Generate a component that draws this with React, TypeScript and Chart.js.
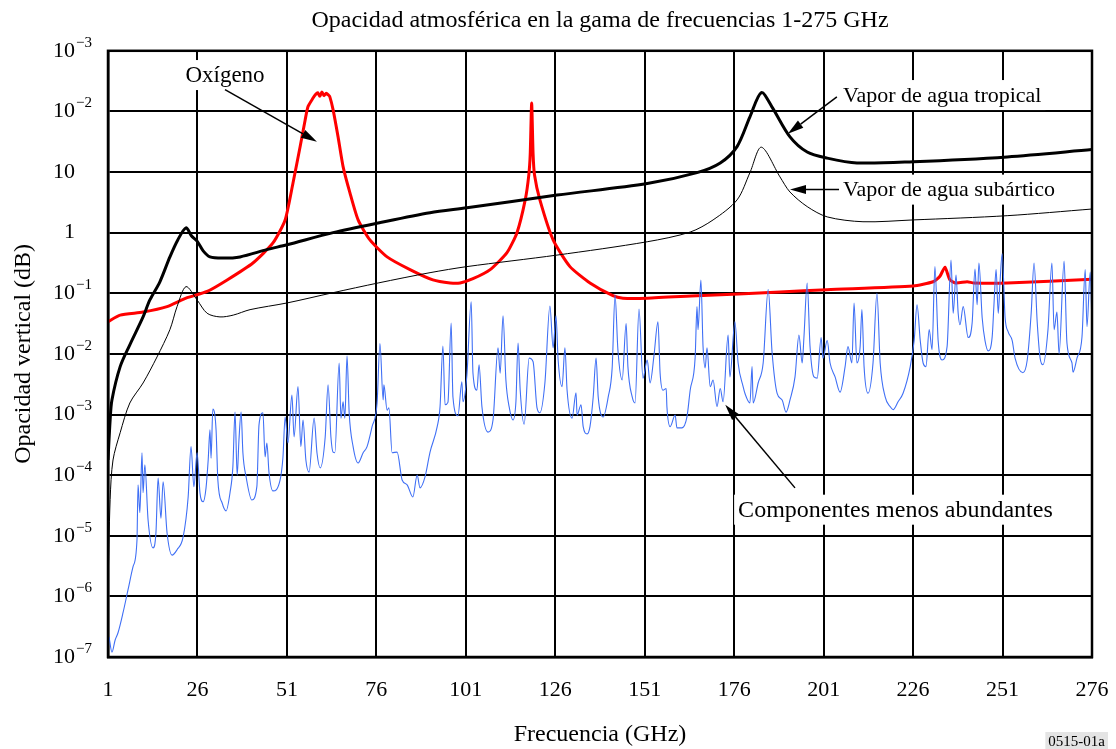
import React, { useEffect, useRef } from 'react';
import { Chart, registerables } from 'chart.js';

Chart.register(...registerables);

const FONT = '"Liberation Serif", "Times New Roman", Times, serif';

const chartTitle = 'Opacidad atmosférica en la gama de frecuencias 1-275 GHz';
const xAxisTitle = 'Frecuencia (GHz)';
const yAxisTitle = 'Opacidad vertical (dB)';
const figureCode = '0515-01a';

const xTicks = [1, 26, 51, 76, 101, 126, 151, 176, 201, 226, 251, 276];
const yTickValues = [1e-7, 1e-6, 1e-5, 1e-4, 1e-3, 1e-2, 1e-1, 1, 10, 100, 1000];
const yTickLabels = ['10^−7', '10^−6', '10^−5', '10^−4', '10^−3', '10^−2', '10^−1', '1', '10', '10^−2', '10^−3'];

// [frequency GHz, log10(opacity dB)]
const tropicalWaterVapour: [number, number][] = [
  [1.0, -3.75], [1.6, -3.09], [2.1, -2.76], [4.4, -2.21], [7.1, -1.85], [10.8, -1.39], [12.7, -1.11],
  [15.5, -0.81], [18.3, -0.40], [20.5, -0.12], [22.8, 0.08], [24.3, -0.05], [25.9, -0.14], [27.6, -0.30],
  [29.5, -0.40], [33.1, -0.42], [37.9, -0.40], [45.4, -0.28], [51.0, -0.20], [63.9, 0.0], [76.5, 0.16],
  [91.0, 0.33], [101.3, 0.41], [126.5, 0.62], [151.7, 0.81], [165.6, 0.99], [172.1, 1.15], [176.8, 1.42],
  [180.4, 1.91], [183.6, 2.31], [186.5, 2.08], [191.6, 1.58], [196.4, 1.33], [202.0, 1.23], [210.3, 1.15],
  [226.0, 1.17], [252.3, 1.25], [276.0, 1.37],
];

const subarcticWaterVapour: [number, number][] = [
  [1.0, -5.9], [1.6, -4.4], [2.4, -3.75], [4.4, -3.30], [7.1, -2.81], [10.8, -2.48], [14.7, -2.05],
  [18.3, -1.60], [20.3, -1.22], [22.8, -0.89], [25.9, -1.11], [28.7, -1.33], [32.3, -1.39], [36.0, -1.36],
  [40.7, -1.27], [51.0, -1.16], [63.9, -0.99], [76.5, -0.83], [91.0, -0.66], [101.3, -0.56], [126.5, -0.37],
  [151.7, -0.15], [163.7, 0.01], [170.1, 0.21], [176.8, 0.54], [180.4, 0.99], [183.6, 1.41], [188.8, 0.92],
  [191.6, 0.67], [196.4, 0.43], [202.0, 0.26], [212.0, 0.18], [226.0, 0.21], [252.3, 0.28], [276.0, 0.39],
];

const oxygen: [number, number][] = [
  [1.0, -1.47], [4.4, -1.36], [10.8, -1.31], [17.5, -1.22], [22.8, -1.08], [28.7, -0.97], [34.3, -0.78],
  [41.5, -0.50], [47.1, -0.17], [50.5, 0.21], [52.7, 0.82], [54.7, 1.42], [56.1, 1.86], [56.9, 2.08],
  [58.3, 2.22], [59.0, 2.28], [59.6, 2.31], [60.2, 2.25], [60.8, 2.32], [61.4, 2.26], [62.0, 2.30],
  [62.6, 2.27], [63.0, 2.24], [63.9, 2.03], [65.3, 1.58], [66.7, 1.09], [68.6, 0.66], [70.9, 0.21],
  [74.2, -0.12], [79.0, -0.40], [85.4, -0.61], [91.8, -0.78], [96.6, -0.83], [99.4, -0.83], [103.0, -0.76],
  [107.8, -0.61], [112.5, -0.33], [115.3, 0.0], [117.6, 0.54], [118.6, 0.95], [119.0, 1.30], [119.4, 2.14],
  [119.8, 1.30], [120.2, 0.95], [121.7, 0.54], [125.4, -0.12], [130.1, -0.56], [135.7, -0.83], [142.1, -1.04],
  [144.9, -1.08], [151.7, -1.08], [165.6, -1.04], [188.8, -0.98], [202.0, -0.94], [226.0, -0.88], [231.6, -0.81],
  [233.5, -0.72], [234.9, -0.57], [236.3, -0.78], [238.0, -0.83], [241.1, -0.81], [243.0, -0.83], [252.3, -0.83],
  [276.0, -0.77],
];

const minorConstituents: [number, number][] = [
  [1.3, -6.67], [2.1, -6.92], [3.0, -6.72], [3.8, -6.60], [5.2, -6.27], [6.6, -5.89], [8.0, -5.51], [9.1, -5.07],
  [9.4, -4.16], [9.9, -4.62], [10.5, -3.63], [10.8, -4.29], [11.3, -3.83], [12.2, -4.74], [13.6, -5.20], [14.4, -4.95],
  [15.0, -4.05], [15.8, -4.71], [16.4, -4.11], [17.5, -4.95], [18.9, -5.32], [20.3, -5.23], [22.0, -5.02], [23.4, -4.36],
  [24.2, -3.53], [25.0, -4.19], [25.9, -3.63], [26.7, -4.29], [27.6, -4.44], [28.4, -4.21], [29.0, -3.75], [29.5, -3.25],
  [29.8, -3.72], [30.3, -2.91], [31.2, -3.25], [31.7, -4.08], [32.9, -4.46], [34.0, -4.59], [35.1, -4.29], [35.9, -3.86],
  [36.5, -2.96], [37.1, -4.00], [37.6, -3.42], [38.2, -2.96], [38.7, -3.63], [39.6, -4.03], [41.2, -4.41], [42.6, -4.19],
  [43.2, -3.17], [44.3, -2.97], [44.9, -3.70], [45.4, -3.47], [46.0, -3.96], [47.1, -4.26], [49.1, -4.08], [49.9, -3.70],
  [50.5, -3.04], [51.3, -3.47], [52.4, -2.68], [53.0, -3.37], [54.1, -2.54], [54.9, -3.53], [55.5, -3.09], [56.3, -3.75],
  [57.2, -3.95], [58.6, -3.06], [59.4, -3.63], [60.3, -3.88], [61.7, -3.37], [62.5, -2.51], [63.3, -3.37], [63.9, -3.62],
  [64.4, -3.63], [65.6, -2.15], [66.1, -3.06], [66.7, -2.79], [67.2, -3.06], [67.8, -2.03], [68.4, -2.97], [69.5, -3.53],
  [70.9, -3.80], [72.3, -3.63], [73.4, -3.53], [74.8, -3.20], [76.2, -2.81], [77.0, -1.83], [77.9, -2.76], [78.1, -2.51],
  [79.0, -2.93], [79.5, -2.89], [80.4, -3.63], [81.8, -3.62], [83.2, -4.08], [84.6, -4.16], [86.2, -4.36], [87.4, -4.00],
  [88.2, -4.21], [89.6, -4.03], [91.0, -3.62], [93.0, -3.20], [93.8, -2.87], [94.6, -1.87], [95.2, -2.84], [96.0, -2.80],
  [96.9, -1.49], [97.4, -2.71], [98.8, -3.02], [99.9, -2.46], [100.2, -2.79], [101.3, -2.35], [102.5, -1.14], [103.0, -2.32],
  [104.1, -2.60], [104.7, -2.18], [105.5, -2.87], [107.2, -3.29], [108.6, -3.09], [110.0, -1.90], [110.6, -2.32], [111.4, -1.37],
  [112.2, -2.43], [113.1, -2.87], [114.2, -3.09], [115.0, -2.79], [115.6, -1.82], [116.2, -2.60], [117.3, -3.16], [118.7, -2.07],
  [119.8, -2.13], [120.9, -2.89], [121.7, -2.97], [123.1, -2.48], [124.5, -1.21], [125.4, -1.90], [126.2, -1.37], [126.8, -2.10],
  [127.9, -2.54], [128.7, -1.90], [129.3, -2.60], [130.7, -3.06], [131.8, -2.64], [132.1, -3.01], [133.2, -2.84], [133.8, -3.20],
  [134.9, -3.32], [135.7, -3.20], [136.6, -2.71], [137.4, -2.07], [138.0, -2.71], [139.4, -3.04], [140.8, -2.71], [141.9, -2.23],
  [142.7, -1.03], [143.5, -1.93], [144.7, -2.43], [145.8, -1.50], [146.3, -2.21], [147.5, -2.71], [148.3, -2.81], [149.4, -1.26],
  [150.5, -2.40], [151.7, -2.10], [152.5, -2.48], [153.6, -2.02], [154.7, -1.47], [155.3, -2.32], [156.1, -2.60], [157.0, -2.57],
  [157.2, -2.87], [158.1, -3.20], [159.5, -3.01], [160.0, -3.22], [161.4, -3.22], [162.8, -3.04], [163.7, -2.60], [165.1, -2.05],
  [165.6, -1.22], [165.9, -1.60], [166.7, -0.78], [167.3, -1.88], [167.9, -2.23], [168.4, -1.90], [169.3, -2.54], [170.1, -2.43],
  [171.2, -2.87], [172.1, -2.57], [172.9, -2.79], [174.3, -1.69], [174.8, -2.38], [176.2, -1.47], [177.1, -2.15], [178.5, -2.54],
  [179.0, -2.65], [180.4, -2.81], [181.0, -2.21], [181.3, -2.81], [182.7, -2.48], [184.1, -2.15], [185.5, -0.94], [186.6, -1.98],
  [188.0, -2.65], [189.4, -2.76], [190.5, -2.96], [191.6, -2.76], [193.0, -2.38], [194.1, -1.69], [195.0, -2.15], [195.5, -1.72],
  [196.4, -0.83], [197.2, -1.88], [198.3, -2.38], [199.2, -2.40], [200.3, -1.73], [200.8, -2.07], [202.0, -1.78], [202.8, -2.15],
  [204.2, -2.38], [205.6, -2.63], [207.0, -2.21], [207.8, -1.88], [208.9, -2.15], [209.5, -1.16], [210.3, -2.15], [211.2, -1.88],
  [211.7, -1.27], [212.3, -2.21], [213.4, -2.65], [214.8, -2.15], [215.9, -1.00], [216.8, -2.15], [218.2, -2.71], [219.6, -2.87],
  [220.4, -2.92], [221.8, -2.79], [223.2, -2.65], [225.2, -2.21], [226.3, -1.78], [227.1, -1.19], [228.0, -1.78], [228.8, -2.15],
  [229.6, -2.21], [230.5, -1.60], [231.3, -1.93], [232.1, -0.56], [233.0, -1.78], [234.1, -2.10], [235.5, -1.88], [236.6, -0.45],
  [237.2, -1.33], [238.0, -0.70], [238.6, -1.33], [239.1, -1.52], [240.0, -1.22], [241.4, -1.73], [242.5, -1.49], [243.3, -0.60],
  [243.9, -1.19], [244.4, -0.50], [245.3, -1.40], [246.1, -1.78], [247.0, -1.95], [248.1, -1.72], [248.6, -1.19], [249.2, -0.61],
  [249.8, -1.33], [250.3, -0.81], [250.9, -0.35], [251.7, -1.39], [252.6, -1.64], [253.7, -1.78], [254.5, -2.07], [256.7, -2.31],
  [257.9, -2.10], [259.0, -1.33], [259.8, -0.50], [260.7, -1.49], [261.5, -2.07], [262.3, -2.18], [263.7, -1.60], [264.8, -0.50],
  [265.4, -1.60], [266.2, -1.31], [266.8, -2.00], [268.2, -0.47], [269.0, -1.82], [270.4, -2.15], [270.7, -2.30], [271.8, -2.07],
  [273.2, -1.72], [274.1, -0.61], [274.6, -1.55], [275.5, -0.65], [276.0, -1.55],
];

// Annotation labels: text, anchor [GHz, log10 dB], alignment, font size, arrow from -> to (data coords)
const annotationTexts = ['Oxígeno', 'Vapor de agua tropical', 'Vapor de agua subártico', 'Componentes menos abundantes'];
const annotationAnchors: [number, number][] = [[33.7, 2.6], [206.4, 2.27], [206.4, 0.71], [177.1, -4.57]];
const annotationAligns: CanvasTextAlign[] = ['center', 'left', 'left', 'left'];
const annotationSizes = [23, 22, 22, 24];
const arrowFrom: [number, number][] = [[33.7, 2.36], [204.7, 2.24], [205.3, 0.71], [193.0, -4.21]];
const arrowTo: [number, number][] = [[59.4, 1.5], [191.0, 1.63], [191.6, 0.71], [173.5, -2.84]];

const toPoints = (arr: [number, number][]) => arr.map(([x, l]) => ({ x, y: Math.pow(10, l) }));

const annotationPlugin = {
  id: 'figureAnnotations',
  afterDraw(chart: any) {
    const { ctx, chartArea, scales } = chart;
    const xs = scales.x;
    const ys = scales.y;
    ctx.save();
    // frame
    ctx.strokeStyle = '#000';
    ctx.lineWidth = 2.5;
    ctx.strokeRect(chartArea.left, chartArea.top, chartArea.right - chartArea.left, chartArea.bottom - chartArea.top);

    // y tick exponents
    ctx.fillStyle = '#000';
    ctx.font = `15px ${FONT}`;
    ctx.textAlign = 'left';
    ctx.textBaseline = 'middle';
    yTickValues.forEach((v, i) => {
      const parts = yTickLabels[i].split('^');
      if (parts[1]) ctx.fillText(parts[1], ys.right - 32, ys.getPixelForValue(v) - 8);
    });

    // annotations
    annotationTexts.forEach((t, i) => {
      ctx.font = `${annotationSizes[i]}px ${FONT}`;
      const ax = xs.getPixelForValue(annotationAnchors[i][0]);
      const ay = ys.getPixelForValue(Math.pow(10, annotationAnchors[i][1]));
      const w = ctx.measureText(t).width;
      const left = annotationAligns[i] === 'center' ? ax - w / 2 : ax;
      ctx.fillStyle = '#fff';
      ctx.fillRect(left - 4, ay - 15, w + 8, 30);
      ctx.fillStyle = '#000';
      ctx.textAlign = 'left';
      ctx.textBaseline = 'middle';
      ctx.fillText(t, left, ay + 1);

      const x1 = xs.getPixelForValue(arrowFrom[i][0]);
      const y1 = ys.getPixelForValue(Math.pow(10, arrowFrom[i][1]));
      const x2 = xs.getPixelForValue(arrowTo[i][0]);
      const y2 = ys.getPixelForValue(Math.pow(10, arrowTo[i][1]));
      const ang = Math.atan2(y2 - y1, x2 - x1);
      const hl = 16, hw = 4.5;
      const bx = x2 - hl * Math.cos(ang);
      const by = y2 - hl * Math.sin(ang);
      ctx.strokeStyle = '#000';
      ctx.lineWidth = 1.5;
      ctx.beginPath();
      ctx.moveTo(x1, y1);
      ctx.lineTo(bx, by);
      ctx.stroke();
      ctx.beginPath();
      ctx.moveTo(x2, y2);
      ctx.lineTo(bx + hw * Math.sin(ang), by - hw * Math.cos(ang));
      ctx.lineTo(bx - hw * Math.sin(ang), by + hw * Math.cos(ang));
      ctx.closePath();
      ctx.fillStyle = '#000';
      ctx.fill();
    });

    // figure code
    ctx.font = `15px ${FONT}`;
    const cw = ctx.measureText(figureCode).width;
    ctx.fillStyle = '#e4e4e4';
    ctx.fillRect(chart.width - cw - 14, chart.height - 17, cw + 6, 17);
    ctx.fillStyle = '#000';
    ctx.textBaseline = 'middle';
    ctx.fillText(figureCode, chart.width - cw - 11, chart.height - 7);
    ctx.restore();
  },
};

export default function App() {
  const ref = useRef<HTMLCanvasElement | null>(null);

  useEffect(() => {
    if (!ref.current) return;
    const tickFont = { family: FONT, size: 22, weight: 'normal' as const };
    const titleFont = { family: FONT, size: 24, weight: 'normal' as const };
    const chart = new Chart(ref.current, {
      type: 'line',
      data: {
        datasets: [
          {
            label: 'Componentes menos abundantes',
            data: toPoints(minorConstituents),
            borderColor: '#3f6ff5',
            borderWidth: 1.1,
            pointRadius: 0,
            cubicInterpolationMode: 'monotone',
          },
          {
            label: 'Vapor de agua subártico',
            data: toPoints(subarcticWaterVapour),
            borderColor: '#000',
            borderWidth: 1,
            pointRadius: 0,
            tension: 0.3,
          },
          {
            label: 'Vapor de agua tropical',
            data: toPoints(tropicalWaterVapour),
            borderColor: '#000',
            borderWidth: 3,
            pointRadius: 0,
            tension: 0.3,
          },
          {
            label: 'Oxígeno',
            data: toPoints(oxygen),
            borderColor: '#ff0000',
            borderWidth: 3,
            pointRadius: 0,
            tension: 0.2,
          },
        ],
      },
      options: {
        animation: false,
        responsive: false,
        events: [],
        layout: { padding: { top: 0, right: 24, bottom: 0, left: 0 } },
        plugins: {
          legend: { display: false },
          tooltip: { enabled: false },
          title: {
            display: true,
            fullSize: false,
            text: chartTitle,
            color: '#000',
            font: titleFont,
            padding: { top: 6, bottom: 16 },
          },
        },
        scales: {
          x: {
            type: 'linear',
            min: 1,
            max: 276,
            afterBuildTicks: (s: any) => {
              s.ticks = xTicks.map((v) => ({ value: v }));
            },
            afterFit: (s: any) => {
              s.height = 92;
              s.paddingLeft = 0;
              s.paddingRight = 0;
            },
            grid: { color: '#000', lineWidth: 2, drawTicks: false },
            border: { color: '#000', width: 2.5 },
            ticks: {
              color: '#000',
              font: tickFont,
              padding: 20,
              autoSkip: false,
              maxRotation: 0,
              callback: (v: any) => String(v),
            },
            title: {
              display: true,
              text: xAxisTitle,
              color: '#000',
              font: titleFont,
              padding: { top: 0, bottom: 0 },
            },
          },
          y: {
            type: 'logarithmic',
            min: 1e-7,
            max: 1e3,
            afterBuildTicks: (s: any) => {
              s.ticks = yTickValues.map((v) => ({ value: v }));
            },
            afterFit: (s: any) => {
              s.width = 108;
            },
            grid: { color: '#000', lineWidth: 2, drawTicks: false },
            border: { color: '#000', width: 2.5 },
            ticks: {
              color: '#000',
              font: tickFont,
              padding: 33,
              autoSkip: false,
              callback: (_v: any, i: number) => yTickLabels[i].split('^')[0],
            },
            title: {
              display: true,
              text: yAxisTitle,
              color: '#000',
              font: titleFont,
              padding: { top: 9, bottom: 0 },
            },
          },
        },
      },
      plugins: [annotationPlugin],
    });
    return () => chart.destroy();
  }, []);

  return (
    <div style={{ position: 'absolute', left: 0, top: 0, width: 1116, height: 749, background: '#fff' }}>
      <canvas ref={ref} width={1116} height={749} style={{ width: 1116, height: 749, display: 'block' }} />
    </div>
  );
}
